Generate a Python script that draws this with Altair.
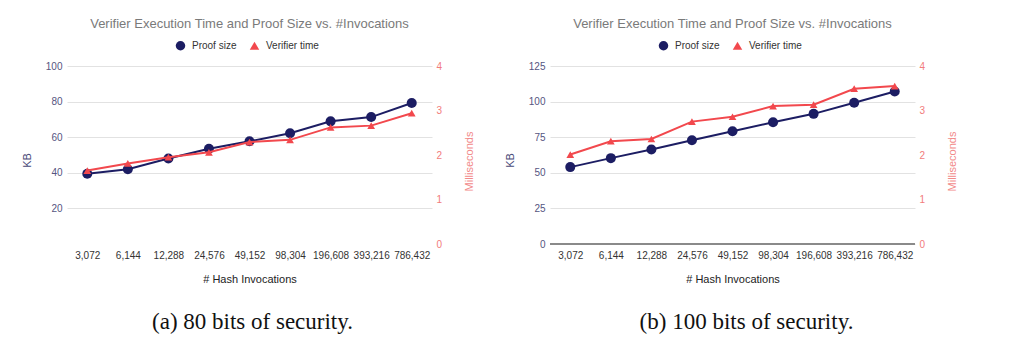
import altair as alt
import pandas as pd

categories = ["3,072", "6,144", "12,288", "24,576", "49,152", "98,304", "196,608", "393,216", "786,432"]
series_names = ["Proof size", "Verifier time"]

kb_a = [39.5, 42.0, 48.0, 53.5, 57.7, 62.2, 68.9, 71.3, 79.2]
ms_a = [1.65, 1.81, 1.95, 2.06, 2.29, 2.34, 2.62, 2.66, 2.94]
kb_b = [54.0, 60.3, 66.4, 72.9, 79.2, 85.5, 91.4, 99.2, 107.1]
ms_b = [2.01, 2.31, 2.36, 2.75, 2.86, 3.10, 3.13, 3.49, 3.55]

kb_ticks_a = [20, 40, 60, 80, 100]
kb_ticks_b = [0, 25, 50, 75, 100, 125]
ms_ticks = [0, 1, 2, 3, 4]

title_text = "Verifier Execution Time and Proof Size vs. #Invocations"
caption_a = "(a) 80 bits of security."
caption_b = "(b) 100 bits of security."

NAVY = "#1c1d63"
RED = "#f2484d"
FONT = "Liberation Sans"
PW, PH = 365, 178


def panel(kb, ms, kb_max, kb_ticks, caption, baseline, frame, cap_dx):
    df = pd.DataFrame({
        "n": categories * 2,
        "series": [series_names[0]] * len(categories) + [series_names[1]] * len(categories),
        "value": kb + ms,
    })
    base = alt.Chart(df)
    x = alt.X("n:O", sort=categories,
              scale=alt.Scale(type="point", padding=0.5),
              axis=alt.Axis(title="# Hash Invocations", labelAngle=0, ticks=False, domain=False,
                            grid=False, labelPadding=6, labelFontSize=10, labelColor="#333333",
                            labelFont=FONT, titleFont=FONT, titleFontSize=11, titleColor="#222222",
                            titleFontWeight="normal", titleY=35, titleBaseline="middle"))
    leg = alt.Legend(orient="none", legendX=108, legendY=-26, direction="horizontal",
                     title=None, labelFontSize=10, labelColor="#333333", labelFont=FONT,
                     symbolSize=90, labelOffset=6, columnPadding=12, padding=0)
    color = alt.Color("series:N", scale=alt.Scale(domain=series_names, range=[NAVY, RED]), legend=leg)
    shape = alt.Shape("series:N", scale=alt.Scale(domain=series_names, range=["circle", "triangle-up"]),
                      legend=leg)

    ykb = alt.Y("value:Q", scale=alt.Scale(domain=[0, kb_max], nice=False, zero=True),
                axis=alt.Axis(values=kb_ticks, grid=True, gridColor="#e2e2e2", ticks=False, domain=False,
                              labelOverlap=False, tickCount=len(kb_ticks),
                              labelColor="#55557f", labelFontSize=10, labelFont=FONT, labelPadding=5,
                              title="KB", titleX=-40, titleY=94, titleAngle=270, titleBaseline="middle",
                              titleAlign="center", titleColor="#4a4a78", titleFontSize=11,
                              titleFont=FONT, titleFontWeight="normal"))
    yms = alt.Y("value:Q", scale=alt.Scale(domain=[0, 4], nice=False, zero=True),
                axis=alt.Axis(orient="right", values=ms_ticks, grid=False, ticks=False, domain=False,
                              labelOverlap=False,
                              labelColor="#f27c7c", labelFontSize=10, labelFont=FONT, labelPadding=4,
                              title="Milliseconds", titleX=37, titleY=95, titleAngle=270,
                              titleBaseline="middle", titleAlign="center", titleColor="#f28a8a",
                              titleFontSize=11, titleFont=FONT, titleFontWeight="normal"))

    kb_src = base.transform_filter(alt.datum.series == series_names[0])
    ms_src = base.transform_filter(alt.datum.series == series_names[1])

    kb_layers = [
        kb_src.mark_line(color=NAVY, strokeWidth=2).encode(x=x, y=ykb),
    ]
    if baseline:
        kb_layers.append(kb_src.mark_rule(color="#8a8a8a", strokeWidth=1.5).encode(
            y=alt.value(PH), x=alt.value(0), x2=alt.value(PW)))
    kb_layers.append(kb_src.mark_point(filled=True, opacity=1, size=100).encode(
        x=x, y=alt.Y("value:Q"), color=color, shape=shape))
    if frame:
        kb_layers.append(kb_src.mark_rect(opacity=0).encode(
            x=alt.value(-67), x2=alt.value(1024 - 67), y=alt.value(-66), y2=alt.value(350 - 66)))
    kb_layer = alt.layer(*kb_layers)

    ms_layer = alt.layer(
        ms_src.mark_line(color=RED, strokeWidth=2).encode(x=x, y=yms),
        ms_src.mark_point(filled=True, opacity=1, size=60).encode(
            x=x, y=alt.Y("value:Q"), color=color, shape=shape),
    )

    texts = pd.DataFrame({"caption": [caption], "title": [title_text]})
    cap = alt.Chart(texts).mark_text(
        font="Liberation Serif", fontSize=23, color="#111111", baseline="middle", align="center"
    ).encode(text="caption:N", x=alt.value(PW / 2 + cap_dx), y=alt.value(256))
    ttl = alt.Chart(texts).mark_text(
        font=FONT, fontSize=13, color="#7a7a7a", baseline="middle", align="center"
    ).encode(text="title:N", x=alt.value(PW / 2), y=alt.value(-42))

    return alt.layer(kb_layer, ms_layer, cap, ttl).resolve_scale(y="independent").properties(
        width=PW, height=PH,
    )


left = panel(kb_a, ms_a, 100, kb_ticks_a, caption_a, False, True, 3)
right = panel(kb_b, ms_b, 125, kb_ticks_b, caption_b, True, False, 14)

chart = alt.hconcat(left, right, spacing=118, bounds="flush").resolve_scale(
    color="independent", shape="independent"
).resolve_legend(color="independent", shape="independent").properties(
    padding=0, background="white"
).configure_view(stroke=None)

chart.save("out.html", embed_options={"renderer": "svg", "actions": False})
